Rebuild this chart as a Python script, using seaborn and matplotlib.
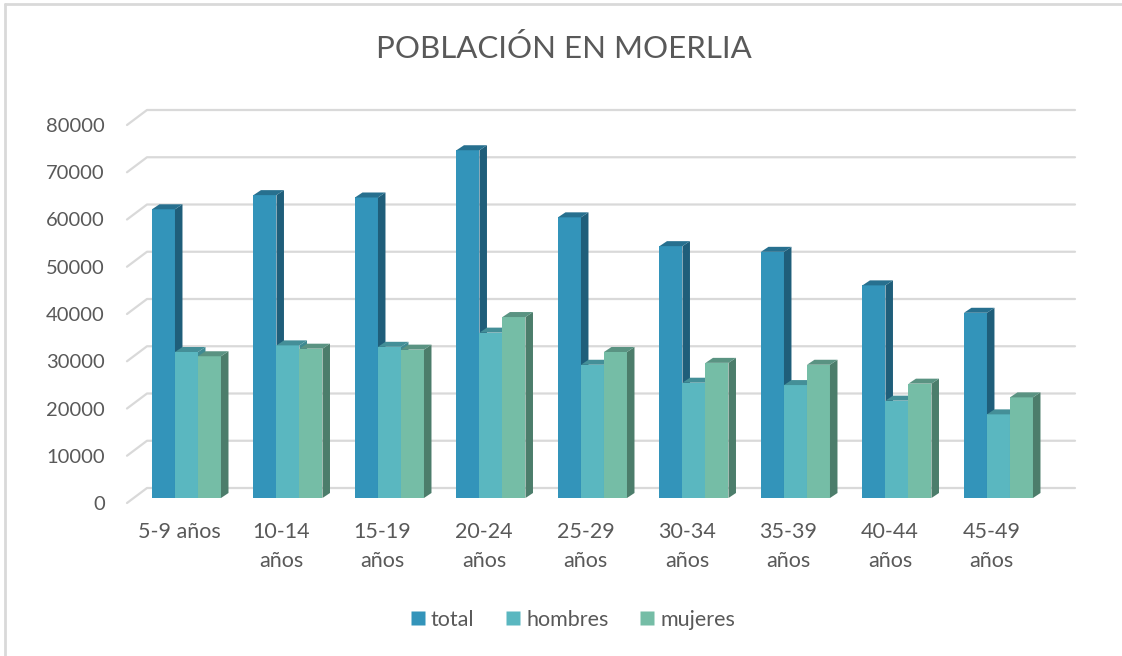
import matplotlib
matplotlib.use("Agg")
import matplotlib.pyplot as plt
import matplotlib.transforms as mtransforms
from matplotlib.patches import Polygon
from matplotlib.lines import Line2D
import seaborn as sns
import pandas as pd

# Data
categories = ["5-9 años", "10-14\naños", "15-19\naños", "20-24\naños", "25-29\naños",
              "30-34\naños", "35-39\naños", "40-44\naños", "45-49\naños"]
total = [61100, 64100, 63600, 73600, 59400, 53300, 52100, 45000, 39200]
hombres = [30900, 32300, 32000, 35000, 28200, 24400, 23900, 20600, 17700]
mujeres = [30000, 31600, 31400, 38300, 30900, 28600, 28200, 24200, 21300]
series = ["total", "hombres", "mujeres"]
y_ticks = [0, 10000, 20000, 30000, 40000, 50000, 60000, 70000, 80000]

colors = {"total": "#3394BA", "hombres": "#5AB7C0", "mujeres": "#75BDA6"}
side_colors = {"total": "#1F5E7A", "hombres": "#3F8A92", "mujeres": "#4C7D6B"}
top_colors = {"total": "#27708F", "hombres": "#448F98", "mujeres": "#5A9382"}
text_col = "#595959"
grid_col = "#D9D9D9"

df = pd.DataFrame({"grupo": categories * 3,
                   "serie": [s for s in series for _ in categories],
                   "valor": total + hombres + mujeres})

sns.set_style("white")
plt.rcParams["font.family"] = ["Lato", "DejaVu Sans"]

W, H = 1122, 656
fig = plt.figure(figsize=(W / 100, H / 100), dpi=100)
ax_left, ax_right, ax_top, ax_bottom = 127, 1075, 120, 498
ax = fig.add_axes([ax_left / W, 1 - ax_bottom / H, (ax_right - ax_left) / W, (ax_bottom - ax_top) / H])

sns.barplot(data=df, x="grupo", y="valor", hue="serie", hue_order=series,
            palette=colors, width=0.68, saturation=1, ax=ax, legend=False,
            edgecolor="none", linewidth=0)

ax.set_xlim(-0.586, 8.754)
ax.set_ylim(0, 80000)

# pseudo-3D faces on each bar (depth ~7.5px right, 5px up)
px_x = (ax_right - ax_left) / (8.754 + 0.586)
px_y = (ax_bottom - ax_top) / 80000
dx = 7.5 / px_x
dy = 5 / px_y
for i, (s, cont) in enumerate(zip(series, ax.containers)):
    for bar in cont:
        bar.set_zorder(2 + i)
        x0, w, h = bar.get_x(), bar.get_width(), bar.get_height()
        x1 = x0 + w
        side = Polygon([(x1, 0), (x1 + dx, dy), (x1 + dx, h + dy), (x1, h)],
                       closed=True, facecolor=side_colors[s], edgecolor="none", zorder=2 + i)
        top = Polygon([(x0, h), (x1, h), (x1 + dx, h + dy), (x0 + dx, h + dy)],
                      closed=True, facecolor=top_colors[s], edgecolor="none", zorder=2 + i)
        ax.add_patch(side)
        ax.add_patch(top)

# gridlines with a back-wall look, drawn behind the bars
ytrans = ax.get_yaxis_transform()
front = mtransforms.offset_copy(ytrans, fig, x=0, y=-5, units="dots")
back = mtransforms.offset_copy(ytrans, fig, x=20, y=10, units="dots")
back_end = mtransforms.offset_copy(ytrans, fig, x=0, y=10, units="dots")
for v in y_ticks:
    p1 = front.transform((0, v))
    p2 = back.transform((0, v))
    p3 = back_end.transform((1, v))
    ax.add_line(Line2D([p1[0], p2[0], p3[0]], [p1[1], p2[1], p3[1]],
                       transform=mtransforms.IdentityTransform(), color=grid_col,
                       lw=1.6, zorder=0.5, clip_on=False))

for sp in ax.spines.values():
    sp.set_visible(False)
ax.patch.set_alpha(0)
ax.set_xlabel("")
ax.set_ylabel("")
ax.set_yticks(y_ticks)
ax.set_yticklabels([str(v) for v in y_ticks])
ax.tick_params(axis="y", length=0, pad=16, labelsize=14.5, labelcolor=text_col)
ax.tick_params(axis="x", length=0, pad=17, labelsize=15.5, labelcolor=text_col)
for lab in ax.get_yticklabels():
    lab.set_transform(lab.get_transform() + mtransforms.ScaledTranslation(0, -5 / 100, fig.dpi_scale_trans))
for lab in ax.get_xticklabels():
    lab.set_linespacing(1.6)
    lab.set_transform(lab.get_transform() + mtransforms.ScaledTranslation(-7 / 100, 0, fig.dpi_scale_trans))

fig.text(0.503, 1 - 48 / H, "POBLACIÓN EN MOERLIA", ha="center", va="center",
         fontsize=22.5, color=text_col)

handles = [Line2D([], [], marker="s", linestyle="none", markersize=10,
                  markerfacecolor=colors[s], markeredgecolor="none") for s in series]
fig.legend(handles, series, loc="center", bbox_to_anchor=(0.51, 1 - 620 / H), ncol=3,
           frameon=False, fontsize=15.5, labelcolor=text_col, handletextpad=0.2,
           columnspacing=1.4, handlelength=0.8)

# chart-area border (left and top)
fig.add_artist(Line2D([5 / W, 5 / W], [0, 1 - 4 / H], transform=fig.transFigure, color="#D9D9D9", lw=2))
fig.add_artist(Line2D([5 / W, 1], [1 - 4 / H, 1 - 4 / H], transform=fig.transFigure, color="#D9D9D9", lw=2))

fig.savefig("out.png", dpi=100, facecolor="white")
